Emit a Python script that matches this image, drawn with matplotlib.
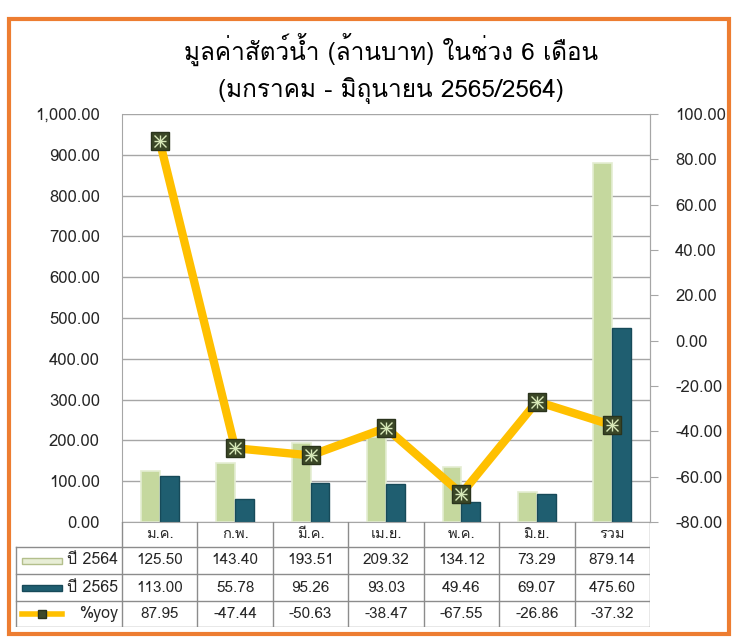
import matplotlib
matplotlib.use('Agg')
import numpy as np
import matplotlib.pyplot as plt
from matplotlib import font_manager
from matplotlib.ft2font import FT2Font
from matplotlib.patches import Rectangle

months = ['ม.ค.', 'ก.พ.', 'มี.ค.', 'เม.ย.', 'พ.ค.', 'มิ.ย.', 'รวม']
y2564 = [125.50, 143.40, 193.51, 209.32, 134.12, 73.29, 879.14]
y2565 = [113.00, 55.78, 95.26, 93.03, 49.46, 69.07, 475.60]
yoy = [87.95, -47.44, -50.63, -38.47, -67.55, -26.86, -37.32]
row_labels = ['ปี 2564', 'ปี 2565', '%yoy']
title1 = 'มูลค่าสัตว์น้ำ (ล้านบาท) ในช่วง 6 เดือน'
title2 = '(มกราคม - มิถุนายน 2565/2564)'


def thai_font():
    # first installed family that has Thai glyphs
    for f in font_manager.fontManager.ttflist:
        try:
            if 0x0E21 in FT2Font(f.fname).get_charmap():
                return f.name
        except Exception:
            pass
    return 'DejaVu Sans'


plt.rcParams['font.family'] = [thai_font(), 'DejaVu Sans']

W, H = 755, 641
fig = plt.figure(figsize=(W / 100, H / 100), dpi=100)


def box(x0, y0, x1, y1):
    return [x0 / W, 1 - y1 / H, (x1 - x0) / W, (y1 - y0) / H]


GRID = '#A6A6A6'
TXT = '#262626'
LIGHT = '#C5D89E'
DARK = '#1F5E70'
GOLD = '#FFC000'

ax = fig.add_axes(box(122, 114, 650, 522))
x = np.arange(len(months))
ax.bar(x - 0.125, y2564, 0.25, color=LIGHT, edgecolor='#E4EDD2', linewidth=1.2, zorder=2)
ax.bar(x + 0.125, y2565, 0.25, color=DARK, edgecolor='#174A59', linewidth=1.0, zorder=2)
ax.set_xlim(-0.5, 6.5)
ax.set_ylim(0, 1000)
ticks = np.arange(0, 1001, 100)
ax.set_yticks(ticks)
ax.set_yticklabels([f'{v:,.2f}' for v in ticks])
ax.set_xticks([])
ax.grid(axis='y', color=GRID, lw=1)
ax.set_axisbelow(True)
ax.tick_params(axis='y', length=0, pad=16, labelsize=12, labelcolor=TXT)
ax.spines['top'].set_visible(False)
for s in ['left', 'right', 'bottom']:
    ax.spines[s].set_color(GRID)

ax2 = ax.twinx()
ax2.set_ylim(-80, 100)
rticks = np.arange(-80, 101, 20)
ax2.set_yticks(rticks)
ax2.set_yticklabels([f'{v:.2f}' for v in rticks])
ax2.tick_params(axis='y', length=6, color=GRID, pad=12, labelsize=12, labelcolor=TXT)
for s in ['top', 'left', 'bottom']:
    ax2.spines[s].set_visible(False)
ax2.spines['right'].set_color(GRID)
ax2.plot(x, yoy, color=GOLD, lw=6, solid_capstyle='round', zorder=3)
ax2.plot(x, yoy, 's', ms=12.5, mfc='#3B4727', mec='#2A331C', zorder=4)
ax2.plot(x, yoy, 'x', ms=9, mec='#D7E8B8', mew=1, zorder=5)
ax2.plot(x, yoy, '+', ms=9, mec='#D7E8B8', mew=1, zorder=5)

# data table under the chart, in pixel coordinates
tax = fig.add_axes(box(15, 522, 650, 627))
tax.set_xlim(15, 650)
tax.set_ylim(627, 522)
tax.axis('off')
col_w = (650 - 122) / len(months)
edges = [522, 547, 574, 601, 627]
for k in range(len(months) + 1):
    tax.plot([122 + k * col_w] * 2, [522, 627], color='#8C8C8C', lw=1)
tax.plot([15.5, 15.5], [547, 627], color='#8C8C8C', lw=1)
for e in edges[1:]:
    tax.plot([15.5, 650], [e, e], color='#8C8C8C', lw=1)

for i, m in enumerate(months):
    cx = 122 + (i + 0.5) * col_w
    tax.text(cx, (edges[0] + edges[1]) / 2, m, ha='center', va='center', fontsize=10.5, color=TXT)
    for r, vals in enumerate([y2564, y2565, yoy]):
        tax.text(cx, (edges[r + 1] + edges[r + 2]) / 2, f'{vals[i]:.2f}',
                 ha='center', va='center', fontsize=11, color=TXT)

for r, lab in enumerate(row_labels):
    cy = (edges[r + 1] + edges[r + 2]) / 2
    tax.text(118, cy, lab, ha='right', va='center', fontsize=11.5, color=TXT)
tax.add_patch(Rectangle((22, 558), 40, 6, facecolor='#E8EED6', edgecolor='#B3BF8C', lw=1))
tax.add_patch(Rectangle((22, 585), 40, 6, facecolor=DARK, edgecolor='#174A59', lw=1))
tax.plot([22, 62], [614, 614], color=GOLD, lw=4)
tax.plot([42], [614], 's', ms=6, mfc='#3E4A2A', mec='#2A331C')

fig.text(391 / W, 1 - 49 / H, title1, ha='center', va='center', fontsize=17.5, color='black')
fig.text(391 / W, 1 - 90 / H, title2, ha='center', va='center', fontsize=17.5, color='black')

fig.patches.append(Rectangle((9 / W, 1 - 634 / H), 720 / W, 615 / H, transform=fig.transFigure,
                             fill=False, edgecolor='#ED7D31', lw=3))

fig.savefig('out.png', dpi=100)
